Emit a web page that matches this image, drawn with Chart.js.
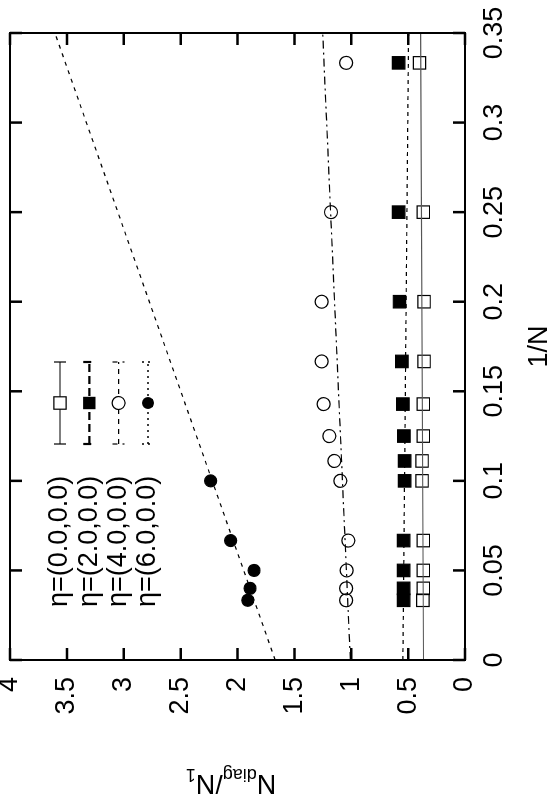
<!DOCTYPE html>
<html>
<head>
<meta charset="utf-8">
<script src="https://cdn.jsdelivr.net/npm/chart.js@4.4.1/dist/chart.umd.min.js"></script>
<style>
  html, body { margin: 0; padding: 0; background: #fff; }
  #page { position: relative; width: 548px; height: 794px; overflow: hidden; }
  /* the plot is drawn landscape, then turned a quarter turn to the left */
  #turn {
    position: absolute; left: 0; top: 0; width: 794px; height: 548px;
    transform-origin: 0 0;
    transform: translateY(794px) rotate(-90deg);
  }
</style>
</head>
<body>
<div id="page">
  <div id="turn"><canvas id="chart" width="794" height="548"></canvas></div>
</div>
<script>
// 1/N for N = 3,4,5,6,7,8,9,10,15,20,25,30
const invN = [1/3, 1/4, 1/5, 1/6, 1/7, 1/8, 1/9, 1/10, 1/15, 1/20, 1/25, 1/30];
const eta0 = [0.40, 0.367, 0.36, 0.36, 0.367, 0.367, 0.378, 0.378, 0.367, 0.367, 0.367, 0.37];
const eta2 = [0.584, 0.584, 0.576, 0.555, 0.546, 0.537, 0.531, 0.531, 0.54, 0.54, 0.54, 0.54];
const eta4 = [1.045, 1.178, 1.26, 1.26, 1.243, 1.193, 1.149, 1.096, 1.026, 1.04, 1.045, 1.045];
const invN6 = [1/10, 1/15, 1/20, 1/25, 1/30];
const eta6 = [2.236, 2.06, 1.855, 1.89, 1.91];

// straight-line fits, value at 1/N = 0 and at 1/N = 0.35
const fitX = [0, 0.35];
const fit0 = [0.365, 0.39];
const fit2 = [0.546, 0.496];
const fit4 = [1.008, 1.251];
const fit6 = [1.669, 3.605];

const xTicks = [0, 0.05, 0.1, 0.15, 0.2, 0.25, 0.3, 0.35];
const yTicks = [0, 0.5, 1, 1.5, 2, 2.5, 3, 3.5, 4];
const legendLabels = ["η=(0.0,0.0)", "η=(2.0,0.0)", "η=(4.0,0.0)", "η=(6.0,0.0)"];

const FONT = "'Liberation Sans', Arial, Helvetica, sans-serif";
const FSIZE = 27;

function pts(xs, ys) {
  return xs.map((x, i) => ({ x: x, y: ys[i] }));
}

function fitSet(ys, color, dash) {
  return {
    data: pts(fitX, ys),
    showLine: true,
    borderColor: color,
    borderWidth: 1.2,
    borderDash: dash,
    pointRadius: 0,
  };
}

function markSet(xs, ys, style, radius, filled) {
  return {
    data: pts(xs, ys),
    showLine: false,
    pointStyle: style,
    pointRadius: radius,
    pointBorderColor: "#000",
    pointBorderWidth: 1.2,
    pointBackgroundColor: filled ? "#000" : "rgba(0,0,0,0)",
  };
}

// no extra room for labels hanging past the plot corners
function noOverflow(s) {
  s.paddingTop = 0;
  s.paddingBottom = 0;
  s.paddingLeft = 0;
  s.paddingRight = 0;
}

// legend sample styles
const legendDash = [[], [8, 4], [5, 5], [2, 4]];
const legendWidth = [1.2, 2.2, 1.2, 1.5];

function drawSymbol(ctx, i, x, y) {
  ctx.setLineDash([]);
  ctx.lineWidth = 1.2;
  ctx.beginPath();
  if (i === 0 || i === 1) {
    ctx.rect(x - 6.2, y - 6.2, 12.4, 12.4);
  } else {
    ctx.arc(x, y, i === 2 ? 6.5 : 6, 0, Math.PI * 2);
  }
  if (i === 1 || i === 3) {
    ctx.fillStyle = "#000";
    ctx.fill();
  } else {
    ctx.fillStyle = "#fff";
    ctx.fill();
    ctx.stroke();
  }
}

const frame = {
  id: "frame",
  afterDraw(chart) {
    const { ctx, chartArea: a, scales } = chart;
    ctx.save();
    ctx.strokeStyle = "#000";
    ctx.setLineDash([]);

    // inward ticks on all four sides
    ctx.lineWidth = 2.5;
    ctx.beginPath();
    scales.x.ticks.forEach((t) => {
      const px = scales.x.getPixelForValue(t.value);
      ctx.moveTo(px, a.bottom);
      ctx.lineTo(px, a.bottom - 12);
      ctx.moveTo(px, a.top);
      ctx.lineTo(px, a.top + 12);
    });
    scales.y.ticks.forEach((t) => {
      const py = scales.y.getPixelForValue(t.value);
      ctx.moveTo(a.left, py);
      ctx.lineTo(a.left + 12, py);
      ctx.moveTo(a.right, py);
      ctx.lineTo(a.right - 12, py);
    });
    ctx.stroke();

    ctx.lineWidth = 2;
    ctx.strokeRect(a.left, a.top, a.right - a.left, a.bottom - a.top);

    // axis titles
    ctx.fillStyle = "#000";
    ctx.font = FSIZE + "px " + FONT;
    ctx.textAlign = "center";
    ctx.textBaseline = "alphabetic";
    ctx.fillText("1/N", (a.left + a.right) / 2, 547);

    ctx.save();
    ctx.translate(19, 231);
    ctx.rotate(-Math.PI / 2);
    const parts = [
      ["N", FSIZE, 0],
      ["diag", 18, 6],
      ["/N", FSIZE, 0],
      ["1", 18, 6],
    ];
    let total = 0;
    parts.forEach((p) => {
      ctx.font = p[1] + "px " + FONT;
      total += ctx.measureText(p[0]).width;
    });
    let cx = -total / 2;
    ctx.textAlign = "left";
    parts.forEach((p) => {
      ctx.font = p[1] + "px " + FONT;
      ctx.fillText(p[0], cx, p[2]);
      cx += ctx.measureText(p[0]).width;
    });
    ctx.restore();

    // key with error-bar samples
    ctx.textAlign = "left";
    ctx.textBaseline = "middle";
    legendLabels.forEach((txt, i) => {
      const y = 60 + i * 29.3;
      ctx.font = FSIZE + "px " + FONT;
      ctx.fillStyle = "#000";
      ctx.fillText(txt, 187, y);
      ctx.setLineDash(legendDash[i]);
      ctx.lineWidth = legendWidth[i];
      ctx.beginPath();
      ctx.moveTo(350, y);
      ctx.lineTo(432, y);
      ctx.moveTo(350, y - 6);
      ctx.lineTo(350, y + 6);
      ctx.moveTo(432, y - 6);
      ctx.lineTo(432, y + 6);
      ctx.stroke();
      drawSymbol(ctx, i, 391, y);
    });
    ctx.restore();
  },
};

document.addEventListener("DOMContentLoaded", function () {
  const ctx = document.getElementById("chart").getContext("2d");
  new Chart(ctx, {
    type: "scatter",
    data: {
      datasets: [
        fitSet(fit0, "#555", []),
        fitSet(fit2, "#000", [4, 4]),
        fitSet(fit4, "#000", [8, 4, 2, 4]),
        fitSet(fit6, "#000", [4, 5]),
        markSet(invN, eta0, "rect", 8.8, false),
        markSet(invN, eta2, "rect", 8.8, true),
        markSet(invN, eta4, "circle", 6.5, false),
        markSet(invN6, eta6, "circle", 6, true),
      ],
    },
    options: {
      responsive: false,
      animation: false,
      layout: { padding: { top: 10, right: 33, left: 0, bottom: 0 } },
      plugins: {
        legend: { display: false },
        tooltip: { enabled: false },
      },
      scales: {
        x: {
          type: "linear",
          min: 0,
          max: 0.35,
          afterFit: (s) => { s.height = 83; noOverflow(s); },
          afterBuildTicks: (s) => { s.ticks = xTicks.map((v) => ({ value: v })); },
          grid: { display: false, drawTicks: false },
          border: { display: false },
          ticks: {
            padding: 13,
            color: "#000",
            font: { family: FONT, size: FSIZE },
            maxRotation: 0,
            autoSkip: false,
            callback: (v) => String(+v.toFixed(2)),
          },
        },
        y: {
          type: "linear",
          min: 0,
          max: 4,
          afterFit: (s) => { s.width = 134; noOverflow(s); },
          afterBuildTicks: (s) => { s.ticks = yTicks.map((v) => ({ value: v })); },
          grid: { display: false, drawTicks: false },
          border: { display: false },
          ticks: {
            padding: 17,
            color: "#000",
            font: { family: FONT, size: FSIZE },
            autoSkip: false,
            callback: (v) => String(+v.toFixed(1)),
          },
        },
      },
    },
    plugins: [frame],
  });
});
</script>
</body>
</html>
